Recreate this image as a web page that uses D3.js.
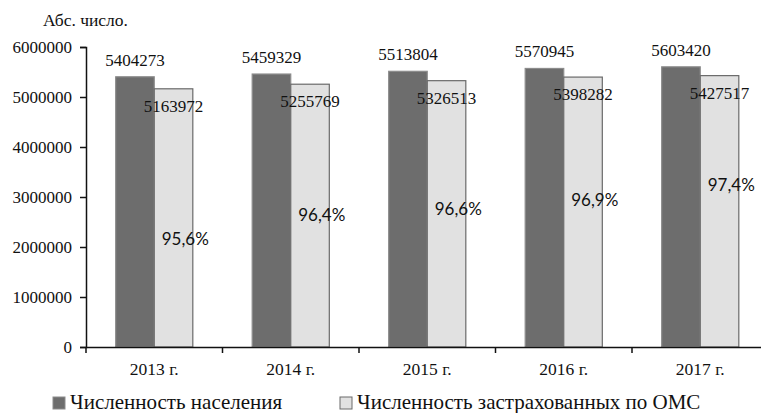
<!DOCTYPE html>
<html>
<head>
<meta charset="utf-8">
<script src="https://cdn.jsdelivr.net/npm/d3@7"></script>
<style>
  body { margin: 0; background: #fff; }
  svg text { font-family: "Liberation Serif", "Times New Roman", "DejaVu Serif", serif; }
  svg text.pct { font-family: Lato, "Open Sans", "Liberation Sans", sans-serif; }
</style>
</head>
<body>
<svg id="chart" width="761" height="413"></svg>
<script>
let years = ["2013 г.", "2014 г.", "2015 г.", "2016 г.", "2017 г."]
let population = [5404273, 5459329, 5513804, 5570945, 5603420]
let insured = [5163972, 5255769, 5326513, 5398282, 5427517]
let share = [95.6, 96.4, 96.6, 96.9, 97.4]
let yTicks = [0, 1000000, 2000000, 3000000, 4000000, 5000000, 6000000]
let seriesNames = ["Численность населения", "Численность застрахованных по ОМС"]

let margin = {top: 47, left: 86, bottom: 347}
let bandStep = 136.5

let svg = d3.select("#chart")

let scales = {
  x: d3.scaleBand()
    .domain(years)
    .range([margin.left, margin.left + bandStep * years.length]),
  y: d3.scaleLinear()
    .domain([0, 6000000])
    .range([margin.bottom, margin.top]),
  // hidden secondary axis for the percentage labels
  y2: d3.scaleLinear()
    .domain([92, 102])
    .range([margin.bottom, margin.top]),
  fill: d3.scaleOrdinal()
    .domain(seriesNames)
    .range(["#6d6d6d", "#e1e1e1"]),
  stroke: d3.scaleOrdinal()
    .domain(seriesNames)
    .range(["#8c8c8c", "#6a6a6a"])
}

let groupW = scales.x.bandwidth() * 0.565
let inner = d3.scaleBand()
  .domain(seriesNames)
  .range([(scales.x.bandwidth() - groupW) / 2, (scales.x.bandwidth() + groupW) / 2])

let rows = years.map((y, i) => ({year: y, values: [population[i], insured[i]], share: share[i]}))

// bars
let groups = svg.append("g")
  .selectAll("g")
  .data(rows).enter()
  .append("g")
  .attr("transform", d => `translate(${scales.x(d.year)},0)`)

groups.selectAll("rect")
  .data(d => d.values.map((v, j) => ({name: seriesNames[j], value: v})))
  .enter()
  .append("rect")
  .attr("x", d => inner(d.name))
  .attr("width", inner.bandwidth())
  .attr("y", d => scales.y(d.value))
  .attr("height", d => scales.y(0) - scales.y(d.value))
  .attr("fill", d => scales.fill(d.name))
  .attr("stroke", d => scales.stroke(d.name))
  .attr("stroke-width", 1.2)

// value labels
groups.selectAll("text.val")
  .data(d => d.values.map((v, j) => ({name: seriesNames[j], value: v, j: j})))
  .enter()
  .append("text")
  .attr("class", "val")
  .attr("x", d => inner(d.name) + inner.bandwidth() / 2)
  .attr("y", d => d.j == 0 ? scales.y(d.value) - 11 : scales.y(d.value) + 23)
  .attr("text-anchor", "middle")
  .attr("font-size", 17)
  .attr("fill", "#111")
  .text(d => d.value)

// percentage labels
groups.append("text")
  .attr("class", "pct")
  .attr("x", scales.x.bandwidth() / 2 + 31)
  .attr("y", d => scales.y2(d.share))
  .attr("dy", "0.35em")
  .attr("text-anchor", "middle")
  .attr("font-size", 17)
  .attr("fill", "#111")
  .text(d => d.share.toFixed(1).replace(".", ",") + "%")

// axes
let yAxis = d3.axisLeft(scales.y)
  .tickValues(yTicks)
  .tickFormat(d3.format("d"))
  .tickSize(6)
  .tickPadding(8)
svg.append("g")
  .attr("transform", `translate(${margin.left},0)`)
  .call(yAxis)
  .attr("font-family", null)
  .call(g => g.selectAll("text").attr("font-size", 17).attr("fill", "#111"))
  .call(g => g.selectAll("line, path").attr("stroke", "#111").attr("stroke-width", 1.5))

let xAxis = d3.axisBottom(scales.x)
  .tickSize(0)
  .tickPadding(16)
let xg = svg.append("g")
  .attr("transform", `translate(0,${margin.bottom})`)
  .call(xAxis)
  .attr("font-family", null)
xg.selectAll("text").attr("font-size", 17.5).attr("fill", "#111")
xg.select("path").attr("stroke", "#111").attr("stroke-width", 1.5)
xg.selectAll("line.sep")
  .data(years.concat(["end"]))
  .enter()
  .append("line")
  .attr("class", "sep")
  .attr("x1", (d, i) => margin.left + i * scales.x.step())
  .attr("x2", (d, i) => margin.left + i * scales.x.step())
  .attr("y1", 0)
  .attr("y2", 6)
  .attr("stroke", "#111")
  .attr("stroke-width", 1.5)

// title
svg.append("text")
  .attr("x", 43)
  .attr("y", 26)
  .attr("font-size", 17.5)
  .attr("fill", "#111")
  .text("Абс. число.")

// legend
let legend = svg.append("g")
  .selectAll("g")
  .data(seriesNames).enter()
  .append("g")
  .attr("transform", (d, i) => `translate(${i == 0 ? 53 : 340},397)`)
legend.append("rect")
  .attr("width", 12)
  .attr("height", 12)
  .attr("fill", d => scales.fill(d))
  .attr("stroke", d => scales.stroke(d))
legend.append("text")
  .attr("x", 17)
  .attr("y", 12)
  .attr("font-size", 21)
  .attr("fill", "#111")
  .text(d => d)
</script>
</body>
</html>
